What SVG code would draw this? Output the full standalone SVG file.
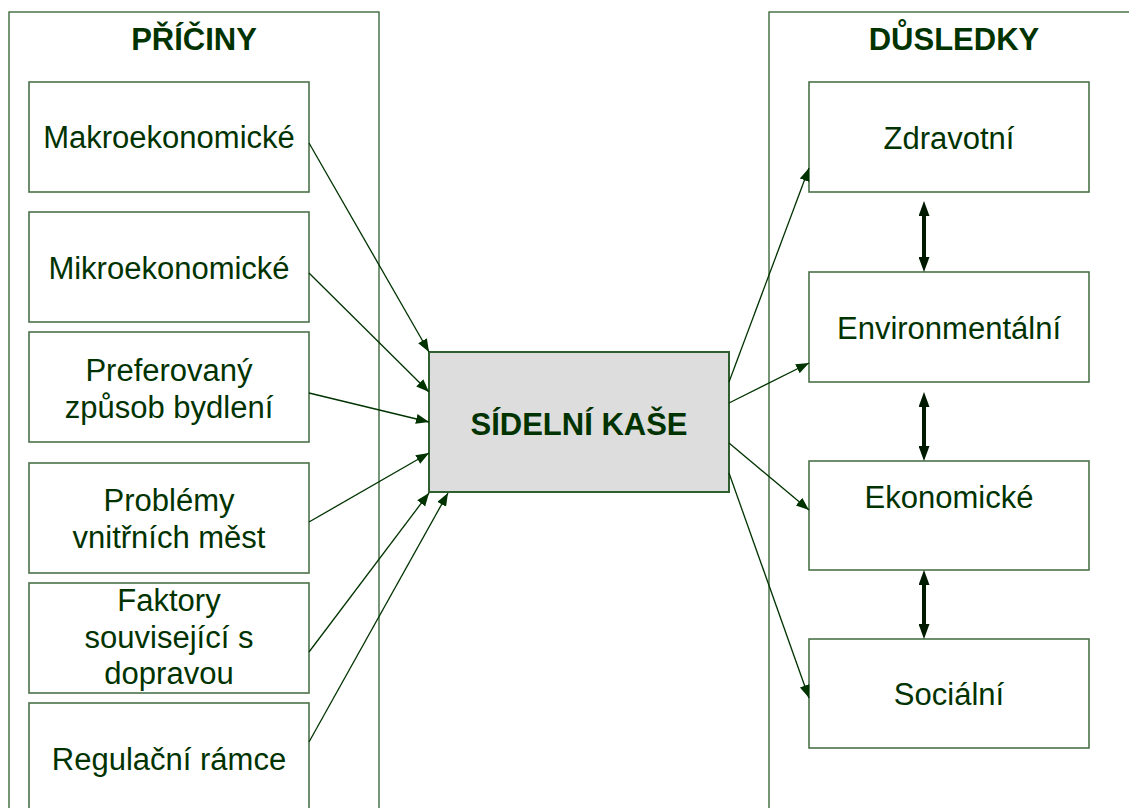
<svg xmlns="http://www.w3.org/2000/svg" width="1129" height="808" viewBox="0 0 1129 808">
<style>
.frame{fill:#fff;stroke:#2f5f2f;stroke-width:1.3}
.box{fill:#fff;stroke:#4a724a;stroke-width:1.6}
.core{fill:#dddddd;stroke:#2f5f2f;stroke-width:2}
.t{font-family:"Liberation Sans",Arial,sans-serif;font-size:31px;fill:#003300;text-anchor:middle}
.h{font-family:"Liberation Sans",Arial,sans-serif;font-size:31px;font-weight:bold;fill:#003300;text-anchor:middle}
.c{font-family:"Liberation Sans",Arial,sans-serif;font-size:31px;font-weight:bold;fill:#003300;text-anchor:middle}
.thin{stroke:#003300;stroke-width:1.3;fill:none;marker-end:url(#ah)}
.dbl{stroke:#001a00;stroke-width:4;fill:none;marker-start:url(#dh);marker-end:url(#dh)}
</style>
<defs>
<marker id="ah" markerUnits="userSpaceOnUse" markerWidth="15" markerHeight="11" refX="13" refY="5" orient="auto">
<path d="M0,0 L13,5 L0,10 z" fill="#003300"/>
</marker>
<marker id="dh" markerUnits="userSpaceOnUse" markerWidth="16" markerHeight="11" refX="0" refY="5.5" orient="auto-start-reverse">
<path d="M0,0 L15,5.5 L0,11 z" fill="#001a00"/>
</marker>
</defs>

<g id="priciny">
<rect class="frame" x="9" y="12" width="370" height="810"/>
<text class="h" x="194" y="50">PŘÍČINY</text>
</g>
<g id="dusledky">
<rect class="frame" x="769" y="12" width="380" height="810"/>
<text class="h" x="954" y="50">DŮSLEDKY</text>
</g>

<g id="makro">
<rect class="box" x="29" y="82" width="280" height="110"/>
<text class="t" x="169" y="148">Makroekonomické</text>
</g>
<g id="mikro">
<rect class="box" x="29" y="212" width="280" height="110"/>
<text class="t" x="169" y="279">Mikroekonomické</text>
</g>
<g id="bydleni">
<rect class="box" x="29" y="332" width="280" height="110"/>
<text class="t" x="169" y="381">Preferovaný</text>
<text class="t" x="169" y="418">způsob bydlení</text>
</g>
<g id="mesta">
<rect class="box" x="29" y="463" width="280" height="110"/>
<text class="t" x="169" y="511">Problémy</text>
<text class="t" x="169" y="548">vnitřních měst</text>
</g>
<g id="doprava">
<rect class="box" x="29" y="583" width="280" height="110"/>
<text class="t" x="169" y="611">Faktory</text>
<text class="t" x="169" y="648">související s</text>
<text class="t" x="169" y="684">dopravou</text>
</g>
<g id="regulace">
<rect class="box" x="29" y="703" width="280" height="120"/>
<text class="t" x="169" y="770">Regulační rámce</text>
</g>

<g id="kase">
<rect class="core" x="429" y="352" width="300" height="140"/>
<text class="c" x="579" y="435">SÍDELNÍ KAŠE</text>
</g>

<g id="zdravotni">
<rect class="box" x="809" y="82" width="280" height="110"/>
<text class="t" x="949" y="149">Zdravotní</text>
</g>
<g id="environmentalni">
<rect class="box" x="809" y="272" width="280" height="110"/>
<text class="t" x="949" y="339">Environmentální</text>
</g>
<g id="ekonomicke">
<rect class="box" x="809" y="461" width="280" height="109"/>
<text class="t" x="949" y="508">Ekonomické</text>
</g>
<g id="socialni">
<rect class="box" x="809" y="639" width="280" height="109"/>
<text class="t" x="949" y="705">Sociální</text>
</g>

<g id="connectors">
<line class="thin" x1="309" y1="143" x2="429" y2="352"/>
<line class="thin" x1="309" y1="273" x2="429" y2="392"/>
<line class="thin" x1="309" y1="393" x2="429" y2="422"/>
<line class="thin" x1="309" y1="522" x2="429" y2="453"/>
<line class="thin" x1="309" y1="652" x2="429" y2="493"/>
<line class="thin" x1="309" y1="742" x2="448" y2="493"/>
<line class="thin" x1="729" y1="382" x2="809" y2="168"/>
<line class="thin" x1="729" y1="403" x2="809" y2="363"/>
<line class="thin" x1="729" y1="443" x2="809" y2="510"/>
<line class="thin" x1="729" y1="473" x2="809" y2="698"/>
<line class="dbl" x1="924" y1="216" x2="924" y2="257"/>
<line class="dbl" x1="924" y1="407" x2="924" y2="446"/>
<line class="dbl" x1="924" y1="585" x2="924" y2="624"/>
</g>
</svg>
